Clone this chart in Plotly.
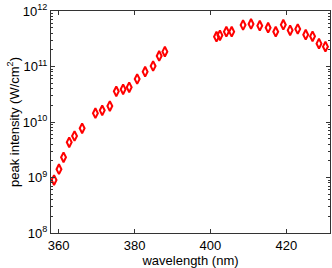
import plotly.graph_objects as go

wavelength = [358.8, 360.1, 361.3, 362.8, 364.2, 366.2, 369.7, 371.5, 373.5, 375.2,
              377.0, 378.6, 380.7, 382.8, 384.9, 386.5, 388.0,
              401.6, 402.5, 404.2, 405.6, 408.6, 410.7, 413.0, 415.2, 417.2,
              419.2, 421.0, 423.0, 425.1, 426.9, 428.6, 430.3]
intensity = [9.0e8, 1.41e9, 2.31e9, 4.31e9, 5.6e9, 7.7e9, 1.44e10, 1.62e10, 1.94e10, 3.57e10,
             3.88e10, 4.22e10, 5.95e10, 8.06e10, 1.02e11, 1.55e11, 1.85e11,
             3.44e11, 3.65e11, 4.24e11, 4.24e11, 5.6e11, 5.84e11, 5.43e11, 5.0e11, 4.24e11,
             5.66e11, 4.49e11, 4.74e11, 3.74e11, 3.50e11, 2.58e11, 2.28e11]
x_ticks = [360, 380, 400, 420]
y_tick_vals = [1e8, 1e9, 1e10, 1e11, 1e12]
y_tick_text = ["10<sup>8</sup>", "10<sup>9</sup>", "10<sup>10</sup>", "10<sup>11</sup>", "10<sup>12</sup>"]
y_minor_vals = [k * 10 ** e for e in range(8, 12) for k in range(2, 10)]

fig = go.Figure()
fig.add_trace(go.Scatter(
    x=wavelength, y=intensity, mode="markers",
    marker=dict(symbol="diamond-tall-open", size=7, color="#ff0000", line=dict(width=2, color="#ff0000")),
))

axis_common = dict(
    showline=True, linecolor="#333333", linewidth=1, mirror="allticks",
    ticks="inside", ticklen=4, tickcolor="#333333", showgrid=False, zeroline=False,
    automargin=False,
    tickfont=dict(family="Liberation Sans, Arial", size=13, color="#000000"),
)

fig.update_layout(
    width=332, height=268,
    margin=dict(l=51, r=2, t=11, b=35),
    paper_bgcolor="white", plot_bgcolor="white",
    showlegend=False,
    font=dict(family="Liberation Sans, Arial", size=13, color="#000000"),
    xaxis=dict(range=[358, 431.5], tickvals=x_ticks,
               title=dict(text="wavelength (nm)", standoff=0, font=dict(size=13)),
               **axis_common),
    yaxis=dict(type="log", range=[8, 12], tickvals=y_tick_vals, ticktext=y_tick_text,
               title=dict(text="peak intensity (W/cm<sup>2</sup>)", standoff=0, font=dict(size=13)),
               minor=dict(ticks="inside", ticklen=2, tickcolor="#333333", showgrid=False,
                          tickmode="array", tickvals=y_minor_vals),
               **axis_common),
)

fig.write_html("out.html", config={"displayModeBar": False},
               post_script="document.body.style.margin='0';document.body.style.overflow='hidden';")
